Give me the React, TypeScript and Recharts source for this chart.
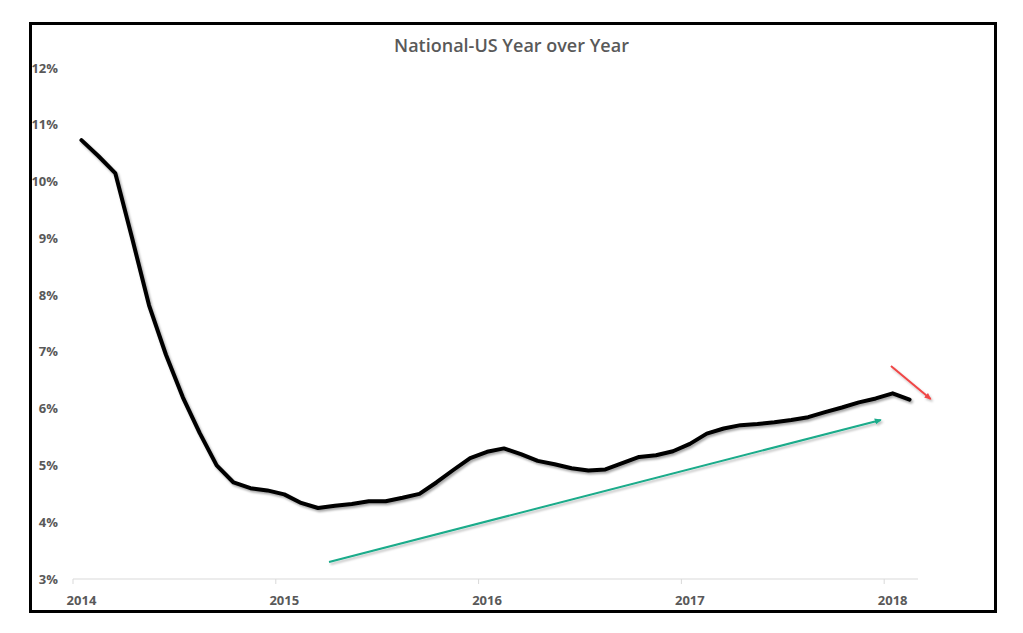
import React from "react";
import {
  LineChart,
  Line,
  XAxis,
  YAxis,
  ReferenceLine,
} from "recharts";

// monthly YoY %, Jan 2014 .. Feb 2018
const yoy = [
  10.73, 10.45, 10.15, 9.0, 7.82, 6.95, 6.2, 5.57, 5.0, 4.7, 4.6, 4.56,
  4.49, 4.34, 4.25, 4.29, 4.32, 4.37, 4.37, 4.43, 4.5, 4.7, 4.92, 5.13,
  5.24, 5.3, 5.2, 5.08, 5.02, 4.95, 4.91, 4.93, 5.04, 5.15, 5.18, 5.25,
  5.38, 5.56, 5.65, 5.71, 5.73, 5.76, 5.8, 5.85, 5.94, 6.02, 6.11, 6.18,
  6.27, 6.16,
];
const yearLabels = ["2014", "2015", "2016", "2017", "2018"];
const yTicks = [3, 4, 5, 6, 7, 8, 9, 10, 11, 12];

// trend arrows drawn on the chart (month index, %)
const greenArrow = [
  { x: 14.65, y: 3.3 },
  { x: 47.3, y: 5.8 },
];
const redArrow = [
  { x: 47.9, y: 6.75 },
  { x: 50.25, y: 6.17 },
];

const data = yoy.map((v, i) => ({ m: i, v }));
const yearTicks = yearLabels.map((_, i) => i * 12 - 0.5);

const textColor = "#595959";
const font = "'Open Sans', sans-serif";

const W = 1023;
const H = 633;
const margin = { top: 68, right: 105, bottom: 24, left: 28 };
const plotW = W - margin.left - 45 - margin.right;
const halfMonth = plotW / 50 / 2;

const XTick = (props: any) => {
  const { x, y, index } = props;
  return (
    <g>
      <line x1={x} y1={y - 8} x2={x} y2={y - 3} stroke="#d9d9d9" />
      <text
        x={x + halfMonth}
        y={y + 18}
        textAnchor="middle"
        fill={textColor}
        fontSize={13}
        fontWeight={700}
        fontFamily={font}
      >
        {yearLabels[index] ?? ""}
      </text>
    </g>
  );
};

const YTick = (props: any) => {
  const { y, payload } = props;
  return (
    <text
      x={58}
      y={y + 4.5}
      textAnchor="end"
      fill={textColor}
      fontSize={13}
      fontWeight={700}
      fontFamily={font}
    >
      {payload.value}%
    </text>
  );
};

const arrow = (color: string, id: string) => (props: any) => (
  <line
    x1={props.x1}
    y1={props.y1}
    x2={props.x2}
    y2={props.y2}
    stroke={color}
    strokeWidth={2}
    markerEnd={`url(#${id})`}
    filter="url(#shadowSoft)"
  />
);

export default function App() {
  return (
    <div style={{ position: "absolute", left: 0, top: 0, width: W, height: H, background: "#fff" }}>
      <div
        style={{
          position: "absolute",
          left: 29,
          top: 22,
          width: 962,
          height: 585,
          border: "3px solid #000",
        }}
      />
      <div
        style={{
          position: "absolute",
          left: 0,
          top: 33,
          width: W,
          textAlign: "center",
          color: textColor,
          fontFamily: font,
          fontWeight: 600,
          fontSize: 18,
        }}
      >
        National-US Year over Year
      </div>
      <div style={{ position: "absolute", left: 0, top: 0 }}>
        <LineChart width={W} height={H} data={data} margin={margin}>
          <defs>
            <filter id="shadow" x="-10%" y="-10%" width="120%" height="130%">
              <feDropShadow dx={1.5} dy={2} stdDeviation={1.3} floodColor="#000" floodOpacity={0.35} />
            </filter>
            <filter id="shadowSoft" x="-10%" y="-50%" width="120%" height="200%">
              <feDropShadow dx={1.5} dy={2} stdDeviation={1.3} floodColor="#000" floodOpacity={0.25} />
            </filter>
            <marker id="arrGreen" markerWidth={8} markerHeight={8} refX={6} refY={4} orient="auto" markerUnits="userSpaceOnUse">
              <path d="M0,1 L7,4 L0,7 Z" fill="#1aab8a" />
            </marker>
            <marker id="arrRed" markerWidth={8} markerHeight={8} refX={6} refY={4} orient="auto" markerUnits="userSpaceOnUse">
              <path d="M0,1 L7,4 L0,7 Z" fill="#f04646" />
            </marker>
          </defs>
          <XAxis
            dataKey="m"
            type="number"
            domain={[-0.5, 49.5]}
            ticks={yearTicks}
            allowDataOverflow
            axisLine={{ stroke: "#d9d9d9" }}
            tickLine={false}
            tick={<XTick />}
          />
          <YAxis
            type="number"
            domain={[3, 12]}
            ticks={yTicks}
            width={45}
            axisLine={false}
            tickLine={false}
            tick={<YTick />}
          />
          <ReferenceLine
            segment={greenArrow}
            ifOverflow="visible"
            shape={arrow("#1aab8a", "arrGreen")}
          />
          <ReferenceLine
            segment={redArrow}
            ifOverflow="visible"
            shape={arrow("#f04646", "arrRed")}
          />
          <Line
            type="linear"
            dataKey="v"
            stroke="#000"
            strokeWidth={4}
            strokeLinejoin="round"
            strokeLinecap="round"
            dot={false}
            filter="url(#shadow)"
            isAnimationActive={false}
          />
        </LineChart>
      </div>
    </div>
  );
}
